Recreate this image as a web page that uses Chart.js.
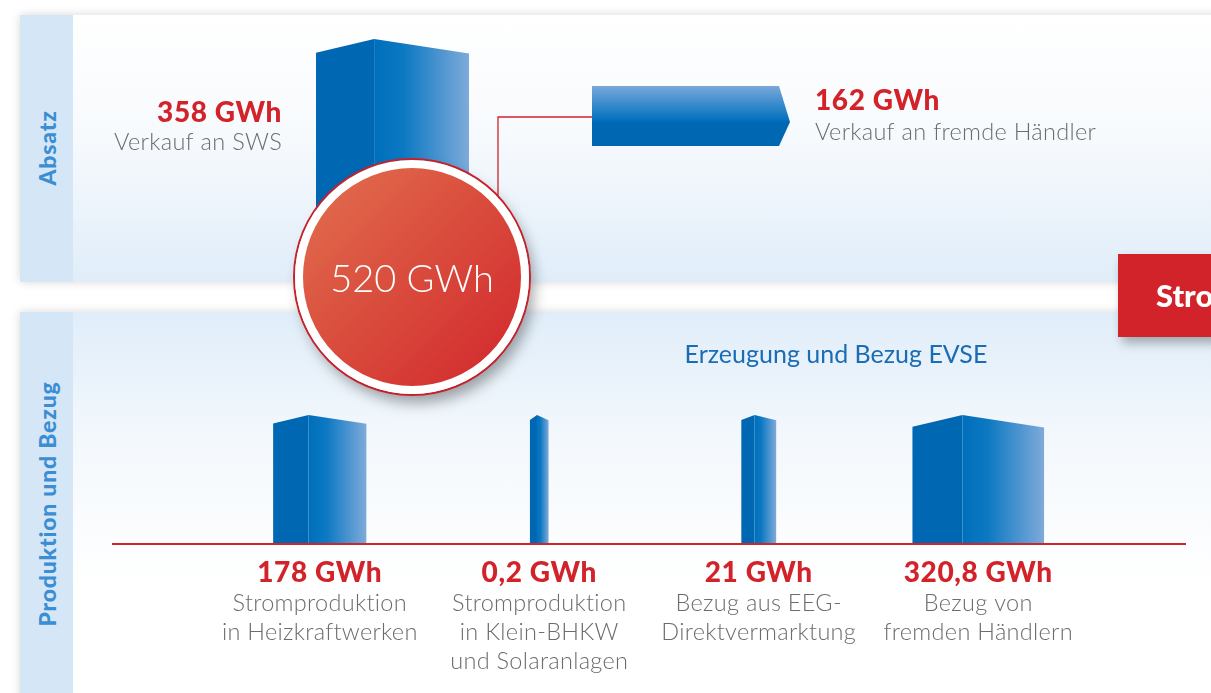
<!DOCTYPE html>
<html>
<head>
<meta charset="utf-8">
<script src="https://cdn.jsdelivr.net/npm/chart.js@4/dist/chart.umd.min.js"></script>
<style>
html, body { margin: 0; padding: 0; width: 1211px; height: 693px; overflow: hidden; background: #fff; font-family: Lato, sans-serif; }
.panel { position: absolute; left: 20px; width: 1230px; box-shadow: 0 0 9px rgba(0,0,0,.16); }
#topPanel { top: 15px; height: 267px; background: linear-gradient(#fff 0%, #f7fafd 45%, #e0edf9 100%); }
#botPanel { top: 312px; height: 420px; background: linear-gradient(#e0edf9 0%, #f3f8fc 30%, #fff 65%); }
.strip { position: absolute; left: 0; top: 0; bottom: 0; width: 53px; background: #d5e6f6; }
.strip span { position: absolute; left: 27px; transform: translate(-50%, -50%) rotate(-90deg); white-space: nowrap; color: #3b8ed3; font-weight: 900; font-size: 23px; letter-spacing: 0.8px; }
canvas { position: absolute; left: 0; }
#circle { position: absolute; left: 295px; top: 160px; width: 234px; height: 234px; box-sizing: border-box; border-radius: 50%;
  border: 8px solid #fff; background: linear-gradient(135deg, #e2704f 0%, #d94b3c 50%, #d2262c 100%);
  box-shadow: 0 0 0 2px #c8202a, 5px 9px 14px rgba(0,0,0,.35);
  color: #fff; font-size: 38px; font-weight: 300; text-align: center; line-height: 218px; z-index: 3; }
#flag { position: absolute; left: 1118px; top: 254px; width: 130px; height: 83px; background: #d2232a; box-shadow: 4px 6px 10px rgba(0,0,0,.3);
  color: #fff; font-weight: 900; font-size: 31px; line-height: 83px; padding-left: 38px; box-sizing: border-box; white-space: nowrap; overflow: hidden; z-index: 4; }
#subtitle { position: absolute; left: 636px; width: 400px; top: 341px; text-align: center; color: #1a6cb5; font-size: 25px; line-height: 25px; z-index: 2; }
</style>
</head>
<body>
<div class="panel" id="topPanel"><div class="strip"><span style="top:133px">Absatz</span></div></div>
<div class="panel" id="botPanel"><div class="strip"><span style="top:192px">Produktion und Bezug</span></div></div>
<div id="subtitle">Erzeugung und Bezug EVSE</div>
<canvas id="sws" width="1211" height="300" style="top:0;z-index:1"></canvas>
<canvas id="haendler" width="1211" height="300" style="top:0;z-index:1"></canvas>
<canvas id="quellen" width="1211" height="393" style="top:300px;z-index:1"></canvas>
<div id="circle"></div>
<div id="flag">Strombilanz</div>
<script>
const unit = 'GWh';
const salesLabels = ['Verkauf an SWS', 'Verkauf an fremde Händler'];
const salesValues = [358, 162];
const sourceLabels = [
    ['Stromproduktion', 'in Heizkraftwerken'],
    ['Stromproduktion', 'in Klein-BHKW', 'und Solaranlagen'],
    ['Bezug aus EEG-', 'Direktvermarktung'],
    ['Bezug von', 'fremden Händlern']
];
const sourceValues = [178, 0.2, 21, 320.8];

const RED = '#d2232a';
const GRAY = '#6b6c6e';
const BOLD = '900 28px Lato, sans-serif';
const LIGHT = '300 23.5px Lato, sans-serif';
const fmt = v => v.toLocaleString('de-DE') + ' ' + unit;

Chart.defaults.font.family = 'Lato, sans-serif';
Chart.defaults.animation = false;
Chart.defaults.events = [];
Chart.defaults.plugins.legend.display = false;
Chart.defaults.plugins.tooltip.enabled = false;

// column width grows with the value (like in the print version)
const widthFor = v => 18 + 2 * Math.pow(v, 0.7);

document.getElementById('circle').textContent = fmt(salesValues.reduce((a, b) => a + b, 0));

function label(ctx, text, x, y, bold) {
    ctx.fillStyle = bold ? RED : GRAY;
    ctx.font = bold ? BOLD : LIGHT;
    ctx.letterSpacing = bold ? '0.6px' : '0.3px';
    ctx.fillText(text, x, y);
}

// blue column with the folded roof
function drawColumn(ctx, left, right, peak, base) {
    const w = right - left;
    const fold = left + w * 0.38;
    const drop = Math.max(5, w * 0.09);
    ctx.save();
    ctx.fillStyle = '#0067b3';
    ctx.beginPath();
    ctx.moveTo(left, base);
    ctx.lineTo(left, peak + drop);
    ctx.lineTo(fold, peak);
    ctx.lineTo(fold, base);
    ctx.closePath();
    ctx.fill();
    const g = ctx.createLinearGradient(fold, 0, right, 0);
    g.addColorStop(0, '#006fbb');
    g.addColorStop(0.3, '#0b78c2');
    g.addColorStop(1, '#7eaada');
    ctx.fillStyle = g;
    ctx.beginPath();
    ctx.moveTo(fold, base);
    ctx.lineTo(fold, peak);
    ctx.lineTo(right, peak + drop * 1.05);
    ctx.lineTo(right, base);
    ctx.closePath();
    ctx.fill();
    ctx.restore();
}

const columnPlugin = {
    id: 'columns',
    afterDatasetsDraw(chart) {
        chart.data.datasets.forEach((ds, i) => {
            chart.getDatasetMeta(i).data.forEach((bar, j) => {
                if (ds.data[j] == null) return;
                const p = bar.getProps(['x', 'y', 'base', 'width'], true);
                drawColumn(chart.ctx, p.x - p.width / 2, p.x + p.width / 2, p.y, p.base);
            });
        });
    }
};

// Verkauf an SWS
new Chart(document.getElementById('sws'), {
    type: 'bar',
    data: {
        labels: [salesLabels[0]],
        datasets: [{
            data: [salesValues[0]],
            backgroundColor: 'rgba(0,0,0,0)',
            categoryPercentage: 1,
            barPercentage: 1
        }]
    },
    options: {
        responsive: false,
        layout: { padding: { left: 316, right: 742, top: 39, bottom: 38 } },
        scales: {
            x: { display: false },
            y: { display: false, min: 0, max: salesValues[0] }
        }
    },
    plugins: [columnPlugin, {
        id: 'swsLabel',
        afterDraw(chart) {
            const ctx = chart.ctx, x = chart.chartArea.left - 34;
            ctx.save();
            ctx.textAlign = 'right';
            label(ctx, fmt(salesValues[0]), x, 122, true);
            label(ctx, salesLabels[0], x, 150, false);
            ctx.restore();
        }
    }]
});

// Verkauf an fremde Haendler
new Chart(document.getElementById('haendler'), {
    type: 'bar',
    data: {
        labels: [salesLabels[1]],
        datasets: [{
            data: [salesValues[1]],
            backgroundColor: 'rgba(0,0,0,0)',
            categoryPercentage: 1,
            barPercentage: 1
        }]
    },
    options: {
        indexAxis: 'y',
        responsive: false,
        layout: { padding: { left: 592, right: 432, top: 86, bottom: 154 } },
        scales: {
            x: { display: false, min: 0, max: salesValues[1] },
            y: { display: false }
        }
    },
    plugins: [{
        id: 'arrow',
        beforeDatasetsDraw(chart) {
            const ctx = chart.ctx;
            const bar = chart.getDatasetMeta(0).data[0];
            const p = bar.getProps(['base', 'y'], true);
            ctx.save();
            ctx.strokeStyle = RED;
            ctx.lineWidth = 1.3;
            ctx.beginPath();
            ctx.moveTo(p.base, p.y + 1);
            ctx.lineTo(498, p.y + 1);
            ctx.lineTo(498, 200);
            ctx.stroke();
            ctx.restore();
        },
        afterDatasetsDraw(chart) {
            const ctx = chart.ctx;
            const bar = chart.getDatasetMeta(0).data[0];
            const p = bar.getProps(['x', 'y', 'base', 'height'], true);
            const top = p.y - p.height / 2, bottom = p.y + p.height / 2;
            const tipY = top + p.height * 0.6;
            const g = ctx.createLinearGradient(0, top, 0, bottom);
            g.addColorStop(0, '#7aa8da');
            g.addColorStop(0.3, '#3a8bcc');
            g.addColorStop(0.58, '#0070bc');
            g.addColorStop(0.6, '#0067b3');
            g.addColorStop(1, '#0067b3');
            ctx.save();
            ctx.fillStyle = g;
            ctx.beginPath();
            ctx.moveTo(p.base, top);
            ctx.lineTo(p.x, top);
            ctx.lineTo(p.x + 11, tipY);
            ctx.lineTo(p.x, bottom);
            ctx.lineTo(p.base, bottom);
            ctx.closePath();
            ctx.fill();
            const x = p.x + 36;
            label(ctx, fmt(salesValues[1]), x, 110, true);
            label(ctx, salesLabels[1], x, 140, false);
            ctx.restore();
        }
    }]
});

// Erzeugung und Bezug
const sourceScales = { x: { display: false } };
sourceValues.forEach((v, i) => {
    sourceScales['y' + i] = { type: 'linear', axis: 'y', position: 'left', display: false, min: 0, max: v };
});

new Chart(document.getElementById('quellen'), {
    type: 'bar',
    data: {
        labels: sourceLabels.map(l => l.join(' ')),
        datasets: sourceValues.map((v, i) => ({
            label: sourceLabels[i].join(' '),
            data: sourceValues.map((w, j) => (j === i ? w : null)),
            yAxisID: 'y' + i,
            barThickness: widthFor(v),
            skipNull: true,
            backgroundColor: 'rgba(0,0,0,0)'
        }))
    },
    options: {
        responsive: false,
        layout: { padding: { left: 210, right: 123, top: 115, bottom: 150 } },
        scales: sourceScales
    },
    plugins: [columnPlugin, {
        id: 'sourceLabels',
        beforeDatasetsDraw(chart) {
            const ctx = chart.ctx, y = chart.chartArea.bottom + 1;
            ctx.save();
            ctx.strokeStyle = RED;
            ctx.lineWidth = 2;
            ctx.beginPath();
            ctx.moveTo(112, y);
            ctx.lineTo(1186, y);
            ctx.stroke();
            ctx.restore();
        },
        afterDraw(chart) {
            const ctx = chart.ctx, bottom = chart.chartArea.bottom;
            const xs = chart.scales.x;
            ctx.save();
            ctx.textAlign = 'center';
            sourceValues.forEach((v, i) => {
                const x = xs.getPixelForValue(i);
                label(ctx, fmt(v), x, bottom + 39, true);
                sourceLabels[i].forEach((line, k) => label(ctx, line, x, bottom + 68 + k * 29, false));
            });
            ctx.restore();
        }
    }]
});
</script>
</body>
</html>
